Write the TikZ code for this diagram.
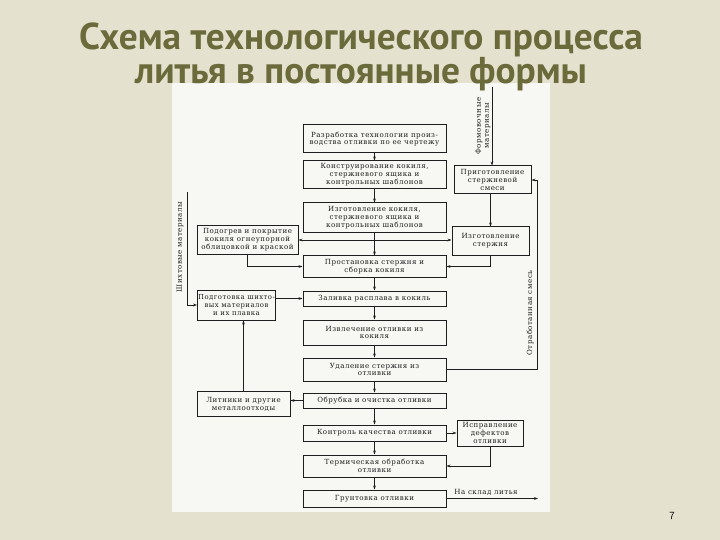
\documentclass[tikz,border=0pt]{standalone}
\usepackage{fontspec}
\usepackage{xcolor}
\usepackage{tikz}
\usetikzlibrary{arrows.meta,calc}
\newfontfamily\scanfont{DejaVu Serif}[LetterSpace=7]
\newfontfamily\titlefont{PT Sans}
\definecolor{slidebg}{HTML}{E4E1CF}
\definecolor{scanbg}{HTML}{F7F7F3}
\definecolor{titlecol}{HTML}{6B6A3B}
\definecolor{inkcol}{HTML}{1E1E1E}

\begin{document}
\begin{tikzpicture}[
  x=1bp, y=-1bp,
  blk/.style={draw=inkcol, line width=1bp, fill=scanbg, align=center, inner sep=0.5bp,
              font=\scanfont\fontsize{7.1}{7.9}\selectfont, text=inkcol},
  mid/.style ={blk, minimum width=143bp},
  side/.style={blk, minimum width=77bp},
  vlab/.style={font=\scanfont\fontsize{7.1}{7.9}\selectfont, text=inkcol, rotate=90,
               align=center, inner sep=0pt},
  e/.style   ={-{Stealth[length=4bp,width=2.8bp]}, draw=inkcol, line width=0.8bp},
]
\useasboundingbox (0,0) rectangle (720,540);
\fill[slidebg] (0,0) rectangle (720,540);
\fill[scanbg] (172,83) rectangle (550,512);

% ---------------- title ----------------
\node[font=\titlefont\bfseries\fontsize{37.5}{34}\selectfont, text=titlecol, align=center] (title)
  at (361,57) {Схема технологического процесса\\литья в постоянные формы};
\node[font=\sffamily\fontsize{11}{12}\selectfont] (pageno) at (672,516) {7};

% ---------------- main chain (centre column) ----------------
\node[mid, minimum height=28bp] (razr)  at (374.5,139)   {Разработка технологии произ-\\водства отливки по ее чертежу};
\node[mid, minimum height=28bp] (konstr) at (374.5,175)  {Конструирование кокиля,\\стержневого ящика и\\контрольных шаблонов};
\node[mid, minimum height=30bp] (izgk)  at (374.5,218)   {Изготовление кокиля,\\стержневого ящика и\\контрольных шаблонов};
\node[mid, minimum height=21bp] (sborka) at (374.5,266.5) {Простановка стержня и\\сборка кокиля};
\node[mid, minimum height=15bp] (zaliv) at (374.5,298.5) {Заливка расплава в кокиль};
\node[mid, minimum height=25bp] (izvl)  at (374.5,332.5) {Извлечение отливки из\\кокиля};
\node[mid, minimum height=23bp] (udal)  at (374.5,369.5) {Удаление стержня из\\отливки};
\node[mid, minimum height=15bp] (obrub) at (374.5,400.5) {Обрубка и очистка отливки};
\node[mid, minimum height=16bp] (kontr) at (374.5,433)   {Контроль качества отливки};
\node[mid, minimum height=22bp] (term)  at (374.5,466)   {Термическая обработка\\отливки};
\node[mid, minimum height=17bp] (grunt) at (374.5,498.5) {Грунтовка отливки};

% ---------------- right column ----------------
\node[side, minimum height=28bp] (prig)  at (492.5,180) {Приготовление\\стержневой\\смеси};
\node[side, minimum height=28bp] (izgst) at (490.5,241) {Изготовление\\стержня};
\node[blk, minimum width=66bp, minimum height=26bp] (ispr) at (490,433) {Исправление\\дефектов\\отливки};

% ---------------- left column ----------------
\node[blk, minimum width=101bp, minimum height=28bp] (podogr) at (247.5,240) {Подогрев и покрытие\\кокиля огнеупорной\\облицовкой и краской};
\node[blk, minimum width=75bp, minimum height=30bp, font=\scanfont\fontsize{6.9}{7.9}\selectfont]
  (shihta) at (236.5,305) {Подготовка шихто-\\вых материалов\\и их плавка};
\node[blk, minimum width=93bp, minimum height=25bp]  (litn)   at (243.5,404) {Литники и другие\\металлоотходы};

% ---------------- free ends ----------------
\coordinate (split) at (374.5,240);
\coordinate (fmtop) at (492,87);
\coordinate (smtop) at (187,192);
\coordinate (ret)   at (537,180);
\coordinate (sklad) at (538,498.5);

\node[vlab] (fmlab) at (483,126) {Формовочные\\материалы};
\node[vlab] (smlab) at (180,247) {Шихтовые материалы};
\node[vlab] (retlab) at (530,313) {Отработанная смесь};
\node[font=\scanfont\fontsize{7.1}{7.9}\selectfont, text=inkcol, inner sep=0pt] (skladlab) at (486,492) {На склад литья};

% ---------------- chain arrows ----------------
\foreach \a/\b in {razr/konstr, konstr/izgk, izgk/sborka, sborka/zaliv, zaliv/izvl,
                   izvl/udal, udal/obrub, obrub/kontr, kontr/term, term/grunt}
  \draw[e] (\a.south) -- (\b.north);

% ---------------- side branches ----------------
\draw[e] (split) -- (podogr.east |- split);
\draw[e] (split) -- (izgst.west |- split);
\draw[e] (podogr.south) |- (sborka.west);
\draw[e] (izgst.south) |- (sborka.east);
\draw[e] (fmtop) -- (fmtop |- prig.north);
\draw[e] (prig.south -| izgst) -- (izgst.north);
\draw[e] (shihta.east |- zaliv) -- (zaliv.west);
\draw[e] (smtop) |- (shihta.west);
\draw[e] (litn.north) -- (litn.north |- shihta.south);
\draw[e] (obrub.west) -- (litn.east |- obrub);
\draw[e] (udal.east) -| (ret) -- (prig.east);
\draw[e] (kontr.east) -- (ispr.west);
\draw[e] (ispr.south) |- (term.east);
\draw[e] (grunt.east) -- (sklad);
\end{tikzpicture}
\end{document}
